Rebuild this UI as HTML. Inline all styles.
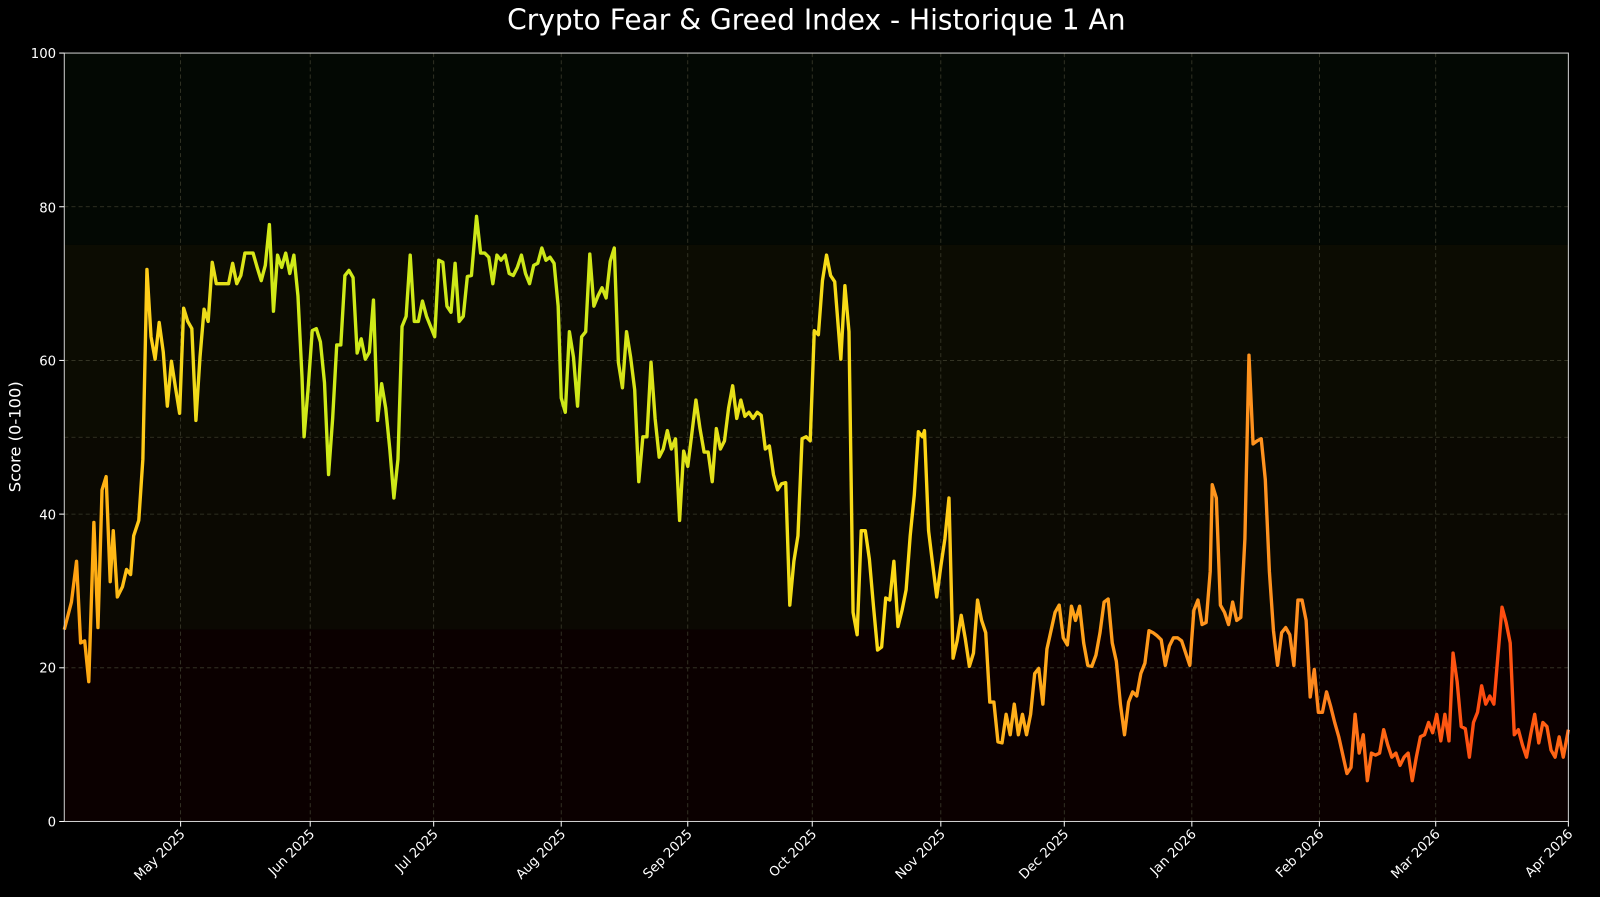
<!DOCTYPE html>
<html><head><meta charset="utf-8"><style>
html,body{margin:0;padding:0;background:#000;}
svg{display:block;font-family:"DejaVu Sans","Liberation Sans",sans-serif;}
</style></head><body>
<svg width="1600" height="897" viewBox="0 0 1568 879" preserveAspectRatio="none" xmlns="http://www.w3.org/2000/svg">
<defs>
<linearGradient id="lg" gradientUnits="userSpaceOnUse" x1="63" y1="0" x2="1537" y2="0">
<stop offset="0" stop-color="#ff9a10"/>
<stop offset="0.06" stop-color="#ffd21a"/>
<stop offset="0.14" stop-color="#d0ea18"/>
<stop offset="0.33" stop-color="#cce818"/>
<stop offset="0.5" stop-color="#f5dc18"/>
<stop offset="0.57" stop-color="#ffd815"/>
<stop offset="0.62" stop-color="#ffb31a"/>
<stop offset="0.7" stop-color="#ff9a1a"/>
<stop offset="0.82" stop-color="#ff9020"/>
<stop offset="0.87" stop-color="#ff6a15"/>
<stop offset="0.95" stop-color="#ff4a10"/>
<stop offset="1" stop-color="#ff6a15"/>
</linearGradient>
</defs>
<rect width="1568" height="879" fill="#000"/>
<text x="800" y="29" fill="#fff" font-size="27.5" text-anchor="middle">Crypto Fear &amp; Greed Index - Historique 1 An</text>
<rect x="63" y="52" width="1474" height="188" fill="#030803"/>
<rect x="63" y="240" width="1474" height="188.5" fill="#0c0c02"/>
<rect x="63" y="428.5" width="1474" height="188.5" fill="#0b0902"/>
<rect x="63" y="617" width="1474" height="188" fill="#0b0000"/>
<g stroke="#3a3a2a" stroke-width="0.8" stroke-dasharray="4,3">
<line x1="63" x2="1537" y1="654.4" y2="654.4"/><line x1="63" x2="1537" y1="503.8" y2="503.8"/>
<line x1="63" x2="1537" y1="353.2" y2="353.2"/><line x1="63" x2="1537" y1="202.6" y2="202.6"/>
<line x1="63" x2="1537" y1="428.5" y2="428.5"/>
<line x1="177" x2="177" y1="52" y2="805"/><line x1="304" x2="304" y1="52" y2="805"/><line x1="425" x2="425" y1="52" y2="805"/><line x1="550" x2="550" y1="52" y2="805"/><line x1="674" x2="674" y1="52" y2="805"/><line x1="796" x2="796" y1="52" y2="805"/><line x1="922" x2="922" y1="52" y2="805"/><line x1="1043" x2="1043" y1="52" y2="805"/><line x1="1168" x2="1168" y1="52" y2="805"/><line x1="1293" x2="1293" y1="52" y2="805"/><line x1="1407" x2="1407" y1="52" y2="805"/>
</g>
<polyline fill="none" stroke="url(#lg)" stroke-width="3.3" stroke-linejoin="round" points="63,617 70,590 75,550 79,630 83,628 87,668 92,512 96,615 100,480 104,467 108,570 111,520 115,585 120,575 124,558 128,563 131,525 136,510 140,450 144,264 148,330 152,352 156,316 160,345 164,398 168,354 172,380 176,405 180,302 184,315 188,322 192,412 196,350 200,303 204,315 208,257 212,278 216,278 220,278 224,278 228,258 232,278 236,270 240,248 244,248 248,248 252,262 256,275 260,260 264,220 268,305 272,250 276,262 280,248 284,268 288,250 292,290 296,370 298,428 302,380 306,324 310,322 314,335 318,375 322,465 326,410 330,338 334,338 338,270 342,265 346,272 350,346 354,332 358,352 362,345 366,294 370,412 374,376 378,400 382,440 386,488 390,450 394,320 398,310 402,250 406,315 410,315 414,295 418,310 422,320 426,330 430,255 434,257 438,300 442,306 446,258 450,315 454,310 458,271 462,270 467,212 471,248 475,248 479,252 483,278 487,250 491,255 495,250 499,268 503,270 507,262 511,250 515,268 519,278 523,260 527,258 531,243 535,255 539,252 543,258 547,300 550,390 554,404 558,325 562,350 566,398 570,330 574,325 578,249 582,300 586,290 590,282 594,292 598,256 602,243 606,355 610,380 614,325 618,350 622,382 626,472 630,428 634,428 638,355 642,410 646,448 650,440 654,422 658,440 662,430 666,510 670,442 674,457 678,425 682,392 686,420 690,443 694,443 698,472 702,420 706,440 710,432 714,400 718,378 722,410 726,392 730,408 734,404 738,410 742,404 746,407 750,440 754,437 758,465 762,480 766,474 770,473 774,593 778,550 782,525 786,430 790,428 794,432 798,324 802,328 806,275 810,250 814,270 818,276 824,352 828,280 832,325 836,600 840,622 844,520 848,520 852,548 856,594 860,637 864,634 868,586 872,588 876,550 880,614 884,598 888,578 892,525 896,485 900,423 904,428 906,422 910,520 914,553 918,585 922,555 926,528 930,488 934,645 938,628 942,603 946,626 950,653 954,640 958,588 962,608 966,620 970,688 974,688 978,727 982,728 986,700 990,720 994,690 998,720 1002,700 1006,720 1010,700 1014,660 1018,655 1022,690 1026,636 1030,618 1034,600 1038,593 1042,625 1046,632 1050,594 1054,608 1058,594 1062,630 1066,652 1070,653 1074,642 1078,620 1082,590 1086,587 1090,630 1094,648 1098,690 1102,720 1106,688 1110,678 1114,682 1118,660 1122,650 1126,618 1130,620 1134,623 1138,627 1142,652 1146,633 1150,625 1154,625 1158,628 1162,640 1166,652 1170,598 1174,588 1178,612 1182,610 1186,560 1188,475 1192,488 1196,593 1200,600 1204,612 1208,590 1212,608 1216,605 1220,528 1224,348 1228,435 1232,432 1236,430 1240,470 1244,560 1248,618 1252,652 1256,620 1260,615 1264,622 1268,652 1272,588 1276,588 1280,608 1284,683 1288,656 1292,698 1296,698 1300,678 1304,692 1308,708 1312,722 1316,740 1320,758 1324,752 1328,700 1332,738 1336,720 1340,765 1344,738 1348,740 1352,738 1356,715 1360,730 1364,742 1368,738 1372,750 1376,742 1380,738 1384,765 1388,742 1392,722 1396,720 1400,708 1404,718 1408,700 1412,726 1416,700 1420,726 1424,640 1428,668 1432,712 1436,714 1440,742 1444,708 1448,698 1452,672 1456,690 1460,682 1464,690 1468,642 1472,595 1476,610 1480,630 1484,720 1488,715 1492,730 1496,742 1500,720 1504,700 1508,728 1512,708 1516,712 1520,735 1524,742 1528,722 1532,742 1537,715"/>
<rect x="63" y="52" width="1474" height="753" fill="none" stroke="#cfcfcf" stroke-width="1"/>
<g fill="#fff" font-size="13" text-anchor="end">
<text x="55" y="810">0</text><text x="55" y="659">20</text><text x="55" y="509">40</text><text x="55" y="358">60</text><text x="55" y="208">80</text><text x="55" y="57">100</text>
</g>
<g stroke="#fff" stroke-width="1">
<line x1="58" x2="63" y1="805" y2="805"/><line x1="58" x2="63" y1="654.4" y2="654.4"/><line x1="58" x2="63" y1="503.8" y2="503.8"/><line x1="58" x2="63" y1="353.2" y2="353.2"/><line x1="58" x2="63" y1="202.6" y2="202.6"/><line x1="58" x2="63" y1="52" y2="52"/>
</g>
<text transform="translate(20,428) rotate(-90)" fill="#fff" font-size="16" text-anchor="middle">Score (0-100)</text>
<g fill="#fff" font-size="13" text-anchor="end">
<text transform="translate(182,818) rotate(-45)">May 2025</text>
<text transform="translate(309,818) rotate(-45)">Jun 2025</text>
<text transform="translate(430,818) rotate(-45)">Jul 2025</text>
<text transform="translate(555,818) rotate(-45)">Aug 2025</text>
<text transform="translate(679,818) rotate(-45)">Sep 2025</text>
<text transform="translate(801,818) rotate(-45)">Oct 2025</text>
<text transform="translate(927,818) rotate(-45)">Nov 2025</text>
<text transform="translate(1048,818) rotate(-45)">Dec 2025</text>
<text transform="translate(1173,818) rotate(-45)">Jan 2026</text>
<text transform="translate(1298,818) rotate(-45)">Feb 2026</text>
<text transform="translate(1412,818) rotate(-45)">Mar 2026</text>
<text transform="translate(1542,818) rotate(-45)">Apr 2026</text>
</g>
<g stroke="#fff" stroke-width="1">
<line x1="177" x2="177" y1="805" y2="810"/><line x1="304" x2="304" y1="805" y2="810"/><line x1="425" x2="425" y1="805" y2="810"/><line x1="550" x2="550" y1="805" y2="810"/><line x1="674" x2="674" y1="805" y2="810"/><line x1="796" x2="796" y1="805" y2="810"/><line x1="922" x2="922" y1="805" y2="810"/><line x1="1043" x2="1043" y1="805" y2="810"/><line x1="1168" x2="1168" y1="805" y2="810"/><line x1="1293" x2="1293" y1="805" y2="810"/><line x1="1407" x2="1407" y1="805" y2="810"/><line x1="1537" x2="1537" y1="805" y2="810"/>
</g>
</svg>
</body></html>
